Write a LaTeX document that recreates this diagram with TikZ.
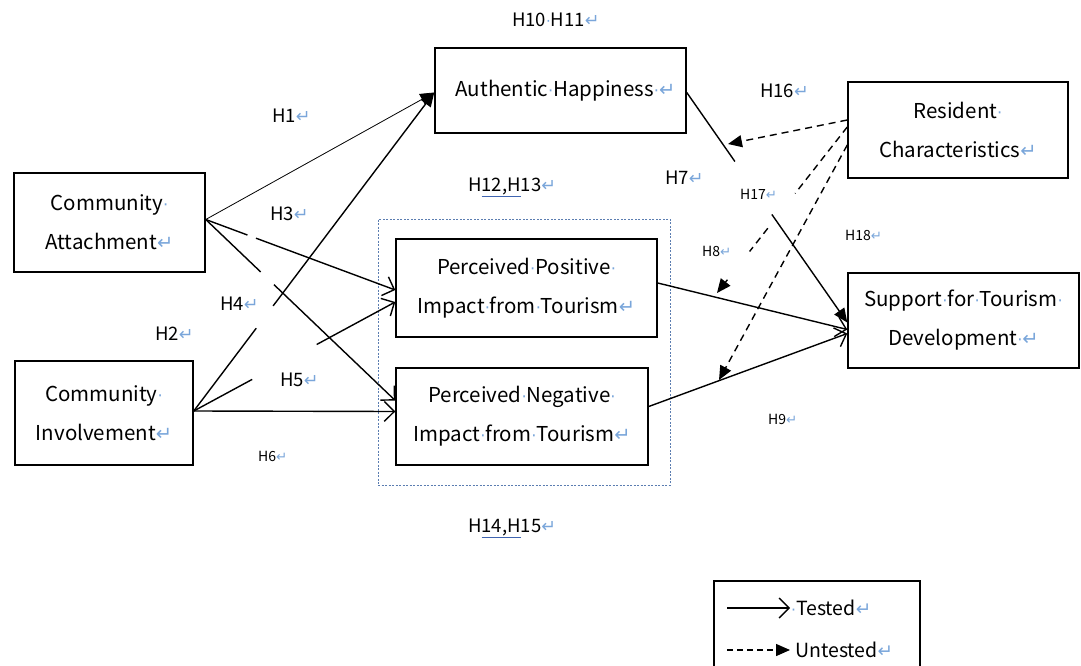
\documentclass[tikz,border=0pt]{standalone}
\usepackage{fontspec}
\usepackage{graphicx}
\setmainfont{Noto Sans CJK SC}
\newfontfamily\markfont{DejaVu Sans}
\usetikzlibrary{arrows.meta,calc}
\definecolor{mk}{HTML}{7AA6DA}
\definecolor{ulc}{HTML}{3F64B0}
\definecolor{frm}{HTML}{5B7DB1}
\newcommand{\dt}{{\color{mk}\markfont\scalebox{0.8}{·}}}
\newcommand{\ret}{{\color{mk}\markfont\scalebox{0.95}{↵}}}
\newcommand{\bul}[1]{{\color{ulc}\underline{\color{black}#1}}}
\begin{document}
\begin{tikzpicture}[x=1pt,y=-1pt,
  box/.style={draw, line width=1.5pt, align=center, inner sep=0pt,
    font=\fontsize{20.5}{39}\selectfont},
  lab/.style={anchor=west, inner sep=0pt, font=\fontsize{18.5}{20}\selectfont},
  sml/.style={anchor=west, inner sep=0pt, font=\fontsize{14}{16}\selectfont},
  tl/.style={line width=1.4pt},
  thin line/.style={line width=0.8pt},
  open/.style={-{Straight Barb[length=10pt,width=20pt]}},
  fill tip/.style={-{Triangle[length=14pt,width=12pt]}},
  dsh/.style={line width=1.4pt, dash pattern=on 7pt off 5pt},
]
\useasboundingbox (0,0) rectangle (1081,666);
\clip (0,0) rectangle (1081,666);

% group frame
\node[draw=frm, line width=0.8pt, dash pattern=on 2pt off 1.5pt,
  minimum width=292pt, minimum height=266pt, inner sep=0pt] (grp) at (524,352) {};

% boxes
\node[box, minimum width=251pt, minimum height=85pt] (ah) at (560.5,90.5)
  {\hspace*{10pt}Authentic\dt Happiness\dt\ret};
\node[box, minimum width=191pt, minimum height=99pt] (ca) at (109.5,222.5)
  {Community\dt\\Attachment\ret};
\node[box, minimum width=178pt, minimum height=104pt] (ci) at (104,413)
  {Community\dt\\Involvement\ret};
\node[box, minimum width=261pt, minimum height=98pt] (pp) at (526.5,288)
  {Perceived\dt Positive\dt\\Impact\dt from\dt Tourism\ret};
\node[box, minimum width=252pt, minimum height=97pt] (nn) at (522,416.5)
  {Perceived\dt Negative\dt\\Impact\dt from\dt Tourism\ret};
\node[box, minimum width=220pt, minimum height=96pt] (rc) at (958,130)
  {Resident\dt\\Characteristics\ret};
\node[box, minimum width=231pt, minimum height=95pt] (sp) at (963.5,320.5)
  {Support\dt for\dt Tourism\dt\\Development\dt\ret};
\node[box, minimum width=206pt, minimum height=110pt] (leg) at (817,636) {};

% anchor coordinates
\coordinate (caO) at ($(ca.east)+(0,-3)$);
\coordinate (ciO) at ($(ci.east)+(0,-2)$);
\coordinate (ahI) at ($(ah.west)+(0,2)$);
\coordinate (ppA) at ($(pp.west)+(0,2)$);
\coordinate (ppB) at ($(pp.west)+(0,14)$);
\coordinate (nnA) at ($(nn.west)+(0,-16)$);
\coordinate (nnB) at ($(nn.west)+(0,-5)$);
\coordinate (ppO) at ($(pp.east)+(0,-5)$);
\coordinate (nnO) at ($(nn.east)+(0,-10)$);
\coordinate (ahO) at ($(ah.east)+(0,2)$);
\coordinate (spA) at ($(sp.west)+(0,2)$);
\coordinate (spB) at ($(sp.west)+(0,9)$);
\coordinate (spC) at ($(sp.west)+(0,13)$);
\coordinate (rcA) at ($(rc.west)+(0,-10)$);
\coordinate (rcB) at ($(rc.west)+(0,-3)$);
\coordinate (rcC) at ($(rc.west)+(0,15)$);
\coordinate (m16) at (728,144);
\coordinate (m17) at (717,293);
\coordinate (m18) at (719,380);

% tested paths
\draw[thin line, fill tip] (caO) -- (ahI);                       % H1
\draw[tl] (ciO) -- ($(ciO)!0.26!(ahI)$);                          % H2
\draw[tl, fill tip] ($(ciO)!0.33!(ahI)$) -- (ahI);
\draw[tl] (caO) -- ($(caO)!0.22!(ppA)$);                          % H3
\draw[tl, open] ($(caO)!0.265!(ppA)$) -- (ppA);
\draw[tl] (caO) -- ($(caO)!0.29!(nnA)$);                          % H4
\draw[tl, open] ($(caO)!0.36!(nnA)$) -- (nnA);
\draw[tl] (ciO) -- ($(ciO)!0.29!(ppB)$);                          % H5
\draw[tl, open] ($(ciO)!0.61!(ppB)$) -- (ppB);
\draw[tl, open] (ciO) -- (nnB);                                   % H6
\draw[tl] (ahO) -- ($(ahO)!0.30!(spA)$);                          % H7
\draw[tl, fill tip] ($(ahO)!0.53!(spA)$) -- (spA);
\draw[tl, open] (ppO) -- (spB);
\draw[tl, open] (nnO) -- (spC);

% untested paths
\draw[dsh, fill tip] (rcA) -- (m16);                              % H16
\draw[dsh] (rcB) -- ($(rcB)!0.40!(m17)$);                         % H17
\draw[dsh] ($(rcB)!0.61!(m17)$) -- ($(rcB)!0.75!(m17)$);
\draw[tl, fill tip] ($(rcB)!0.92!(m17)$) -- (m17);
\draw[dsh, fill tip] (rcC) -- (m18);                              % H18

% labels
\node[lab] (l1011) at (512,20) {H10\dt H11\ret};
\node[lab] (l1) at (272,116) {H1\ret};
\node[lab] (l3) at (270,214) {H3\ret};
\node[lab] (l1213) at (468,187) {H\bul{12,H}13\ret};
\node[lab] (l7) at (665,178) {H7\ret};
\node[lab] (l16) at (760,91) {H16\ret};
\node[sml] (l17) at (740,194) {H17\ret};
\node[sml] (l8) at (702,251) {H8\ret};
\node[sml] (l18) at (845,235) {H18\ret};
\node[lab] (l2) at (155,334) {H2\ret};
\node[lab] (l4) at (220,304) {H4\ret};
\node[lab] (l5) at (280,380) {H5\ret};
\node[sml] (l6) at (258,456) {H6\ret};
\node[sml] (l9) at (768,419) {H9\ret};
\node[lab] (l1415) at (468,528) {H\bul{14,H}15\ret};

% legend
\coordinate (g1a) at (727,608); \coordinate (g1b) at (790,608);
\coordinate (g2a) at (727,650); \coordinate (g2b) at (790,650);
\draw[tl, open] (g1a) -- (g1b);
\draw[tl, dash pattern=on 6pt off 4pt, fill tip] (g2a) -- (g2b);
\node[lab, font=\fontsize{19.5}{22}\selectfont] (lt) at (791,608) {\dt Tested\ret};
\node[lab, font=\fontsize{19.5}{22}\selectfont] (lu) at (795,650) {Untested\ret};
\end{tikzpicture}
\end{document}
